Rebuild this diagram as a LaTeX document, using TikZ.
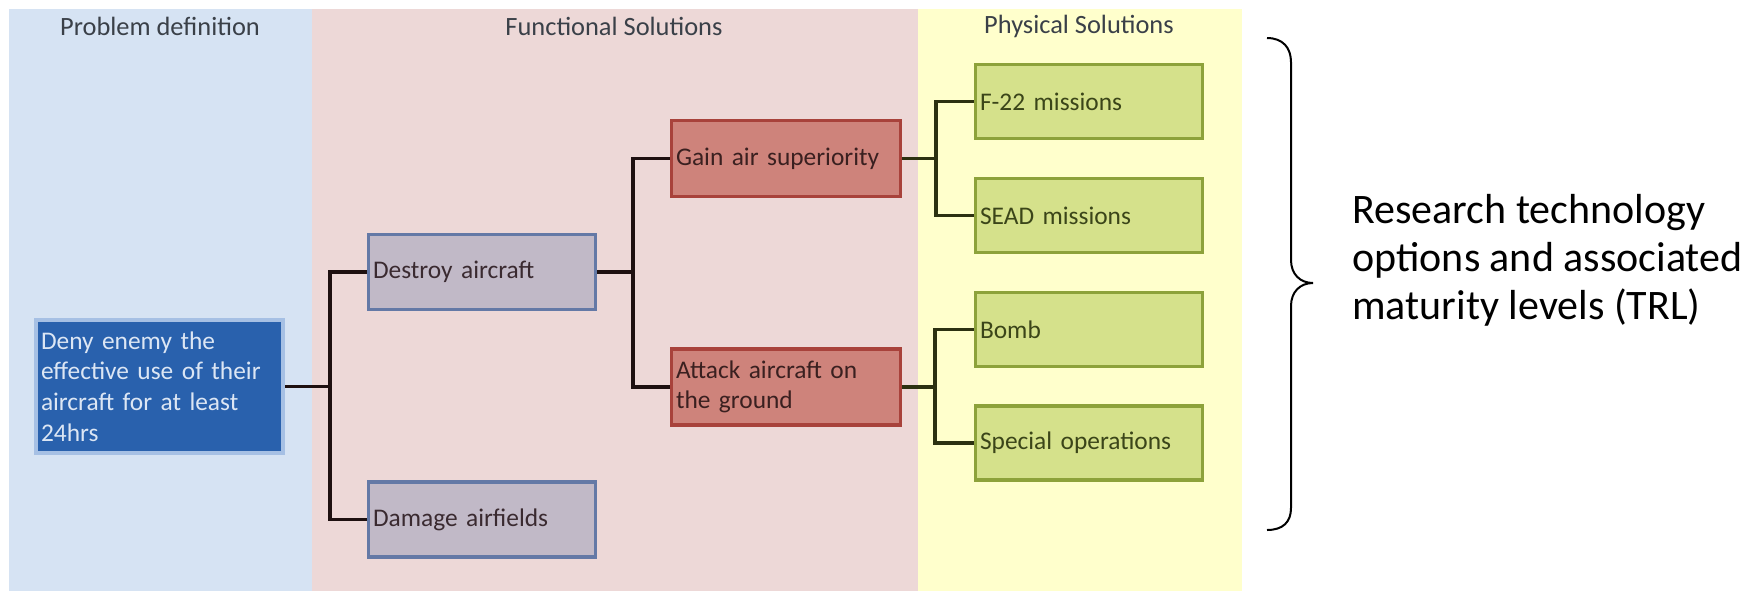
\documentclass[tikz,border=0pt]{standalone}
\usepackage{fontspec}
\setmainfont{Carlito}
\definecolor{panelblue}{HTML}{D6E3F3}
\definecolor{panelpink}{HTML}{EDD8D7}
\definecolor{panelyellow}{HTML}{FFFFCC}
\definecolor{denyfill}{HTML}{2961AD}
\definecolor{denyglow}{HTML}{A6C0E4}
\definecolor{denytext}{HTML}{DCE6F4}
\definecolor{lilacfill}{HTML}{C1B9C7}
\definecolor{lilacline}{HTML}{6479A6}
\definecolor{lilactext}{HTML}{3A2A30}
\definecolor{redfill}{HTML}{CE837B}
\definecolor{redline}{HTML}{A8423B}
\definecolor{redtext}{HTML}{3A2020}
\definecolor{greenfill}{HTML}{D5E18B}
\definecolor{greenline}{HTML}{8DA23A}
\definecolor{greentext}{HTML}{3B4519}
\definecolor{connA}{HTML}{1E1010}
\definecolor{connB}{HTML}{2C3111}
\definecolor{headtext}{HTML}{3A4048}
\tikzset{
  basebox/.style={rectangle, inner xsep=2.25pt, inner ysep=0pt, align=left,
    font=\fontsize{12.7}{15.3}\selectfont, line width=1.6pt},
  lilacbox/.style={basebox, fill=lilacfill, draw=lilacline, text=lilactext,
    text width=109pt, minimum height=37.5pt},
  redbox/.style={basebox, fill=redfill, draw=redline, text=redtext,
    text width=110pt, minimum height=38pt},
  greenbox/.style={basebox, fill=greenfill, draw=greenline, text=greentext,
    text width=109pt, minimum height=37pt},
  denybox/.style={basebox, fill=denyfill, draw=denyglow, text=denytext,
    line width=2pt, inner xsep=2.5pt, text width=118.5pt, minimum height=66.5pt},
  header/.style={font=\fontsize{13.2}{16}\selectfont, text=headtext, inner sep=0pt},
  connline/.style={line width=1.9pt, draw=connA},
  connlineB/.style={line width=1.9pt, draw=connB},
}
\begin{document}
\begin{tikzpicture}[x=0.5pt,y=-0.5pt]
\useasboundingbox (0,0) rectangle (1758,591);
\fill[white] (0,0) rectangle (1758,591);
% panels
\fill[panelblue] (9,9) rectangle (312,591);
\fill[panelpink] (312,9) rectangle (918,591);
\fill[panelyellow] (918,9) rectangle (1242,591);
\node[header] (h1) at (160,26) {Problem definition};
\node[header] (h2) at (614,26) {Functional Solutions};
\node[header] (h3) at (1079,26) {Physical Solutions};
% connectors (junction points)
\coordinate (j1) at (330,386.5);
\coordinate (j2) at (633,272);
\coordinate (j3) at (936,158.5);
\coordinate (j4) at (935,387);
% nodes
\node[denybox] (deny) at (159.5,386.5) {Deny enemy the\\effective use of their\\aircraft for at least\\24hrs};
\node[lilacbox] (destroy) at (482,272) {Destroy aircraft};
\node[lilacbox] (damage) at (482,519.5) {Damage airfields};
\node[redbox] (gain) at (786,158.5) {Gain air superiority};
\node[redbox] (attack) at (786,387) {Attack aircraft on\\the ground};
\node[greenbox] (f22) at (1089,101.5) {F-22 missions};
\node[greenbox] (sead) at (1089,215.5) {SEAD missions};
\node[greenbox] (bomb) at (1089,329.5) {Bomb};
\node[greenbox] (special) at (1089,443) {Special operations};
% connectors
\draw[connline] (deny.east) -- (j1);
\draw[connline] (destroy.west) -| (j1) |- (damage.west);
\draw[connline] (destroy.east) -- (j2);
\draw[connline] (gain.west) -| (j2) |- (attack.west);
\draw[connlineB] (gain.east) -- (j3);
\draw[connlineB] (f22.west) -| (j3) |- (sead.west);
\draw[connlineB] (attack.east) -- (j4);
\draw[connlineB] (bomb.west) -| (j4) |- (special.west);
% brace
\draw[line width=1pt, black] (1267,38) .. controls (1283,38) and (1291,48) .. (1291,62)
  -- (1291,260) .. controls (1291,274) and (1300,283) .. (1313,283)
  .. controls (1300,283) and (1291,292) .. (1291,306)
  -- (1291,508) .. controls (1291,522) and (1283,530) .. (1267,530);
\node[anchor=west, inner sep=0pt, align=left, font=\fontsize{21}{24}\selectfont] (trl) at (1352,260)
  {Research technology\\options and associated\\maturity levels (TRL)};
\end{tikzpicture}
\end{document}
